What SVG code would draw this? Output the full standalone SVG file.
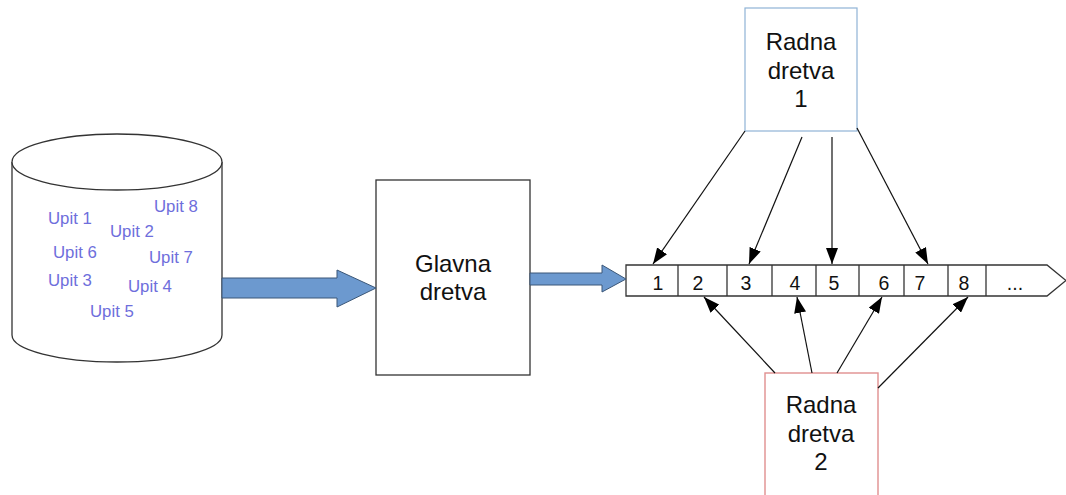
<svg xmlns="http://www.w3.org/2000/svg" width="1066" height="495" viewBox="0 0 1066 495">
  <defs>
    <marker id="tri" viewBox="0 0 16 12" refX="16" refY="6" markerWidth="16" markerHeight="12" markerUnits="userSpaceOnUse" orient="auto">
      <path d="M0,0 L16,6 L0,12 Z" fill="#000"/>
    </marker>
    <style>
      .box { fill: #fff; stroke: #333; stroke-width: 1.3; }
      .big { fill: #6c99cf; stroke: #3b5778; stroke-width: 1; }
      .label { font-family: "Liberation Sans", Arial, sans-serif; font-size: 24px; fill: #111; text-anchor: middle; }
      .num { font-family: "Liberation Sans", Arial, sans-serif; font-size: 19.5px; fill: #111; text-anchor: middle; }
      .upit { font-family: "Liberation Sans", Arial, sans-serif; font-size: 16.8px; fill: #6e6edc; }
      .link { stroke: #111; stroke-width: 1.2; fill: none; marker-end: url(#tri); }
    </style>
  </defs>
  <rect width="1066" height="495" fill="#fff"/>

  <!-- database cylinder holding the requests -->
  <g id="database">
    <path class="box" d="M12,162 L12,335 A105,27 0 0 0 222,335 L222,162 A105,28 0 0 0 12,162 Z"/>
    <path class="box" d="M12,162 A105,28 0 0 0 222,162" fill="none"/>
    <text class="upit" x="48" y="224">Upit 1</text>
    <text class="upit" x="154" y="212">Upit 8</text>
    <text class="upit" x="110" y="237">Upit 2</text>
    <text class="upit" x="53" y="258">Upit 6</text>
    <text class="upit" x="149" y="263">Upit 7</text>
    <text class="upit" x="48" y="286">Upit 3</text>
    <text class="upit" x="128" y="292">Upit 4</text>
    <text class="upit" x="90" y="317">Upit 5</text>
  </g>

  <!-- main thread -->
  <g id="glavna">
    <rect class="box" x="376" y="180" width="154" height="195"/>
    <text class="label" x="453" y="272">Glavna</text>
    <text class="label" x="453" y="300">dretva</text>
  </g>

  <!-- queue of requests -->
  <g id="queue">
    <path class="box" d="M626,265 L1047,265 L1066,280.5 L1047,296 L626,296 Z" stroke="#555"/>
    <g stroke="#333" stroke-width="1.3">
      <line x1="678" y1="265" x2="678" y2="296"/>
      <line x1="727" y1="265" x2="727" y2="296"/>
      <line x1="772" y1="265" x2="772" y2="296"/>
      <line x1="816" y1="265" x2="816" y2="296"/>
      <line x1="859" y1="265" x2="859" y2="296"/>
      <line x1="904" y1="265" x2="904" y2="296"/>
      <line x1="948" y1="265" x2="948" y2="296"/>
      <line x1="986" y1="265" x2="986" y2="296"/>
    </g>
    <text class="num" x="658" y="290">1</text>
    <text class="num" x="698" y="290">2</text>
    <text class="num" x="746" y="290">3</text>
    <text class="num" x="795" y="290">4</text>
    <text class="num" x="834" y="290">5</text>
    <text class="num" x="884" y="290">6</text>
    <text class="num" x="920" y="290">7</text>
    <text class="num" x="964" y="290">8</text>
    <text class="num" x="1015" y="290">...</text>
  </g>

  <!-- worker thread 1 -->
  <g id="radna1">
    <rect x="745" y="8" width="112" height="123" fill="#fff" stroke="#8fb3d6" stroke-width="1.2"/>
    <text class="label" x="801" y="50">Radna</text>
    <text class="label" x="801" y="79">dretva</text>
    <text class="label" x="801" y="107">1</text>
  </g>

  <!-- worker thread 2 -->
  <g id="radna2">
    <rect x="765" y="373" width="113" height="130" fill="#fff" stroke="#e08f8f" stroke-width="1.4"/>
    <text class="label" x="821" y="413">Radna</text>
    <text class="label" x="821" y="442">dretva</text>
    <text class="label" x="821" y="470">2</text>
  </g>

  <g id="connectors">
    <!-- block arrows -->
    <path class="big" d="M222,278 L337,278 L337,270 L376,288 L337,307 L337,298 L222,298 Z"/>
    <path class="big" d="M530,273 L602,273 L602,265 L626,279 L602,292 L602,285 L530,285 Z"/>
    <!-- worker 1 takes requests -->
    <line class="link" x1="745" y1="131" x2="653" y2="264"/>
    <line class="link" x1="802" y1="137" x2="749" y2="264"/>
    <line class="link" x1="832" y1="137" x2="832" y2="264"/>
    <line class="link" x1="857" y1="128" x2="928" y2="264"/>
    <!-- worker 2 takes requests -->
    <line class="link" x1="775" y1="373" x2="704" y2="297"/>
    <line class="link" x1="812" y1="373" x2="797" y2="297"/>
    <line class="link" x1="837" y1="373" x2="882" y2="297"/>
    <line class="link" x1="878" y1="388" x2="968" y2="297"/>
  </g>
</svg>
